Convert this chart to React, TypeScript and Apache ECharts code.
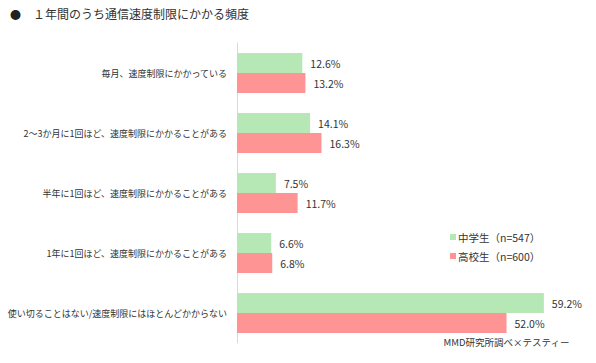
import React, { useEffect, useRef } from "react";
import * as echarts from "echarts";

const categories = [
  "毎月、速度制限にかかっている",
  "2～3か月に1回ほど、速度制限にかかることがある",
  "半年に1回ほど、速度制限にかかることがある",
  "1年に1回ほど、速度制限にかかることがある",
  "使い切ることはない/速度制限にはほとんどかからない",
];
const juniorHigh = [12.6, 14.1, 7.5, 6.6, 59.2];
const highSchool = [13.2, 16.3, 11.7, 6.8, 52.0];
const seriesNames = ["中学生（n=547）", "高校生（n=600）"];
const titleText = "１年間のうち通信速度制限にかかる頻度";
const sourceText = "MMD研究所調べ×テスティー";

const FONT = "'Noto Sans CJK JP', 'Noto Sans', sans-serif";

export default function App() {
  const ref = useRef<HTMLDivElement>(null);
  useEffect(() => {
    document.body.style.margin = "0";
    const chart = echarts.init(ref.current!, null, { renderer: "svg" });
    const label = {
      show: true,
      position: "right" as const,
      distance: 8,
      fontSize: 10.5,
      color: "#333",
      fontFamily: FONT,
      formatter: (p: any) => p.value.toFixed(1) + "%",
    };
    chart.setOption({
      animation: false,
      backgroundColor: "#fff",
      textStyle: { fontFamily: FONT },
      grid: { left: 237, right: 48, top: 43, bottom: 20, containLabel: false },
      xAxis: {
        type: "value",
        min: 0,
        max: 60,
        show: false,
      },
      yAxis: {
        type: "category",
        data: categories,
        inverse: true,
        axisLine: { show: true, lineStyle: { color: "#d9d9d9", width: 1 } },
        axisTick: { show: false },
        axisLabel: { margin: 10, fontSize: 9, color: "#333", fontFamily: FONT },
      },
      legend: {
        orient: "vertical",
        left: 445,
        top: 226,
        itemWidth: 6,
        itemHeight: 6,
        itemGap: 7,
        icon: "rect",
        textStyle: { fontSize: 10.5, color: "#333", fontFamily: FONT, lineHeight: 12, padding: [0, 0, 0, -3] },
        data: seriesNames,
      },
      series: [
        {
          name: seriesNames[0],
          type: "bar",
          data: juniorHigh,
          barWidth: 20,
          barGap: "0%",
          itemStyle: { color: "#b5e8b5" },
          label,
        },
        {
          name: seriesNames[1],
          type: "bar",
          data: highSchool,
          barWidth: 20,
          barGap: "0%",
          itemStyle: { color: "#ff9494" },
          label,
        },
      ],
      graphic: [
        {
          type: "text",
          left: 10,
          top: 8,
          style: { text: "●", fontSize: 11, fill: "#222", fontFamily: FONT },
        },
        {
          type: "text",
          left: 33,
          top: 7,
          style: { text: titleText, fontSize: 12, fill: "#333", fontFamily: FONT },
        },
        {
          type: "text",
          right: 26,
          top: 337,
          style: { text: sourceText, fontSize: 9.5, fill: "#333", fontFamily: FONT },
        },
      ],
    });
    return () => chart.dispose();
  }, []);
  return <div ref={ref} style={{ width: 596, height: 363 }} />;
}
